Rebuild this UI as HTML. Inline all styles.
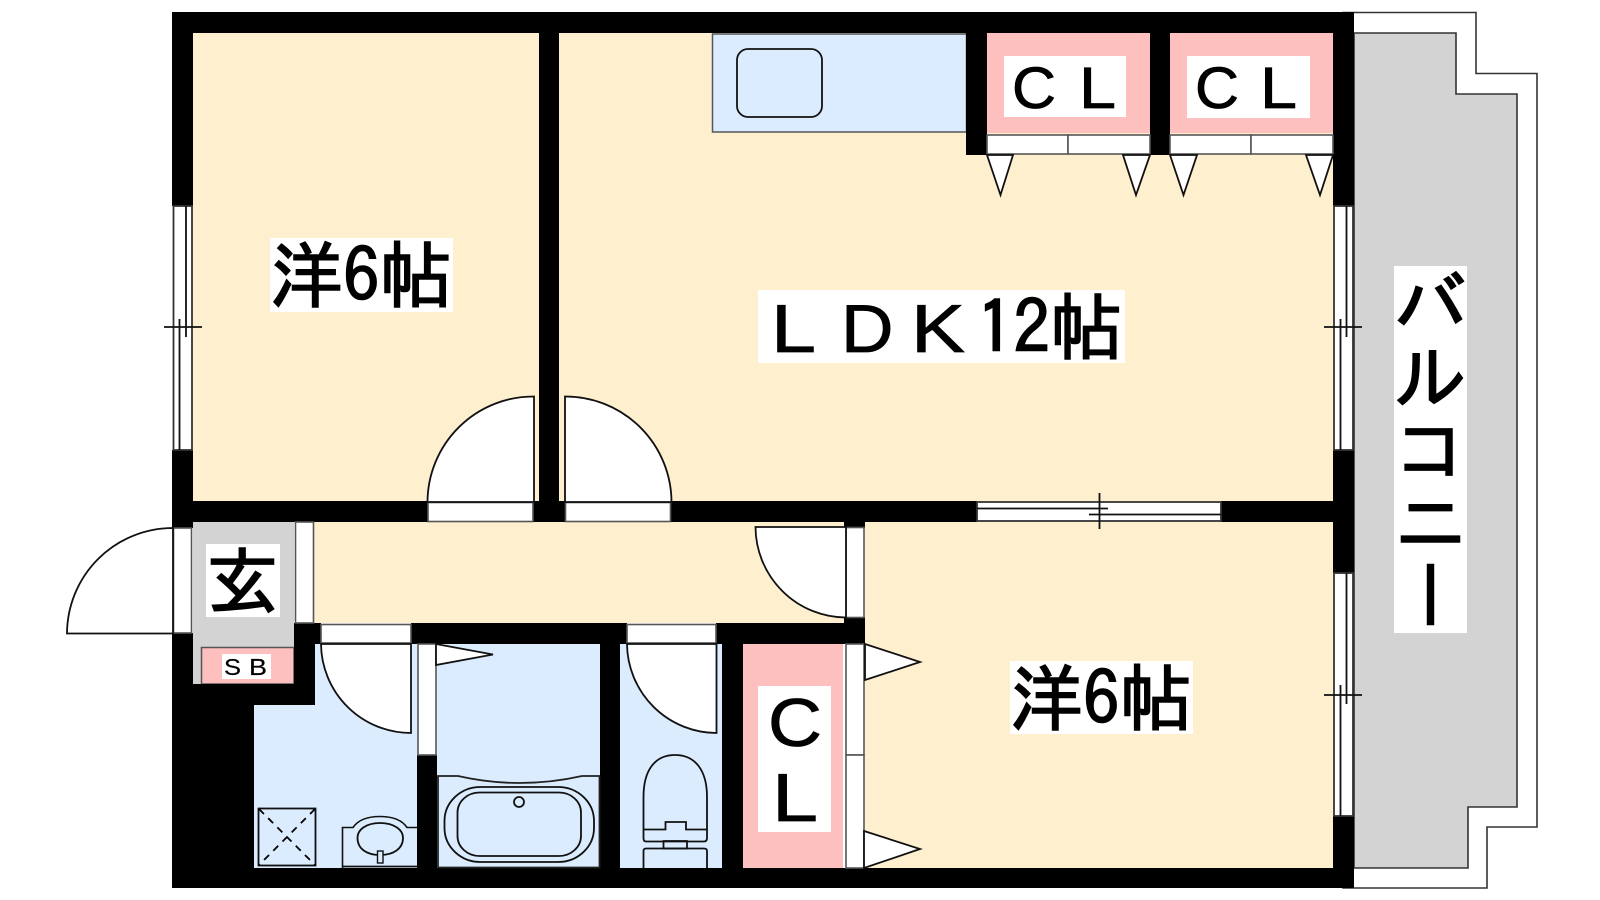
<!DOCTYPE html>
<html lang="ja"><head><meta charset="utf-8"><title>間取り図</title>
<style>
html,body{margin:0;padding:0;background:#fff;width:1600px;height:900px;overflow:hidden}
svg{display:block}
text{font-family:"IPAGothic","Noto Sans CJK JP",sans-serif;fill:#000;stroke:#000;stroke-width:1.6px}
text.a{font-family:"Liberation Sans",sans-serif;stroke-width:.8px}
.k{fill:#000;stroke:none}
.l{fill:none;stroke:#111;stroke-width:1.8}
.d{fill:#fff;stroke:#111;stroke-width:1.8}
.j{fill:#fff;stroke:#555;stroke-width:1.6}
</style></head><body>
<svg width="1600" height="900" viewBox="0 0 1600 900" xmlns="http://www.w3.org/2000/svg">
<!-- balcony -->
<path class="j" d="M1343 12.500H1476V73.500H1537V827H1487V888H1343Z" style="stroke:#333"/>
<path d="M1354 33H1456V94H1517V807H1468V868H1354Z" fill="#d3d3d3" stroke="#333" stroke-width="1.6"/>
<!-- floors -->
<rect x="193" y="33" width="346" height="468" fill="#fef0cf"/>
<rect x="559" y="33" width="774" height="468" fill="#fef0cf"/>
<rect x="865" y="522" width="468" height="346" fill="#fef0cf"/>
<rect x="314" y="522" width="530" height="101" fill="#fef0cf"/>
<rect x="193" y="522" width="101" height="162" fill="#d3d3d3"/>
<rect x="201.500" y="647.500" width="92.500" height="36.500" fill="#febfbf" stroke="#555" stroke-width="1.5"/>
<path d="M315 644H417V868H254V705H315Z" fill="#dbecff"/>
<rect x="437" y="644" width="163" height="224" fill="#dbecff"/>
<rect x="620" y="644" width="102" height="224" fill="#dbecff"/>
<rect x="743" y="644" width="100" height="224" fill="#febfbf"/>
<rect x="987" y="33" width="163" height="100" fill="#febfbf"/>
<rect x="1170" y="33" width="163" height="100" fill="#febfbf"/>
<rect x="712.500" y="34" width="254" height="98" fill="#dbecff" stroke="#555" stroke-width="1.5"/>
<rect x="737" y="49" width="85" height="68" rx="11" class="l"/>
<!-- walls -->
<g class="k">
<rect x="172" y="12" width="1182" height="21"/>
<rect x="172" y="868" width="1182" height="20"/>
<rect x="172" y="12" width="21" height="194"/>
<rect x="172" y="450" width="21" height="78"/>
<rect x="172" y="633" width="21" height="255"/>
<rect x="193" y="684" width="122" height="21"/>
<rect x="193" y="684" width="61" height="204"/>
<rect x="294" y="623" width="21" height="82"/>
<rect x="294" y="623" width="27" height="21"/>
<rect x="1333" y="12" width="21" height="194"/>
<rect x="1333" y="450" width="21" height="123"/>
<rect x="1333" y="816" width="21" height="72"/>
<rect x="172" y="501" width="256" height="21"/>
<rect x="533" y="501" width="32" height="21"/>
<rect x="671" y="501" width="306" height="21"/>
<rect x="1221" y="501" width="133" height="21"/>
<rect x="539" y="33" width="20" height="468"/>
<rect x="844" y="522" width="21" height="6"/>
<rect x="844" y="617" width="21" height="27"/>
<rect x="411" y="623" width="216" height="21"/>
<rect x="716" y="623" width="149" height="21"/>
<rect x="417" y="755" width="20" height="113"/>
<rect x="600" y="644" width="20" height="224"/>
<rect x="722" y="644" width="21" height="224"/>
<rect x="966" y="33" width="21" height="122"/>
<rect x="1150" y="33" width="20" height="122"/>
</g>
<!-- closet sliding doors top -->
<g class="j">
<rect x="987" y="135" width="81" height="19"/><rect x="1068" y="135" width="82" height="19"/>
<rect x="1170" y="135" width="81" height="19"/><rect x="1251" y="135" width="82" height="19"/>
</g>
<g class="d">
<path d="M987 155H1013L1000.500 195Z"/><path d="M1123 155H1150L1136 195Z"/>
<path d="M1170 155H1197L1183.500 195Z"/><path d="M1306 155H1333L1320 195Z"/>
</g>
<!-- windows -->
<g class="d" style="stroke:#333">
<rect x="173.500" y="206" width="18.500" height="244"/>
<rect x="1334" y="206" width="19" height="244"/>
<rect x="1334" y="573" width="19" height="243"/>
<rect x="977" y="502" width="244" height="19"/>
</g>
<g class="l">
<path d="M179.500 319V450M186 206V337M164 327H202"/>
<path d="M1340.500 319V450M1346.500 206V337M1324 327H1362"/>
<path d="M1340.500 685V816M1346.500 573V704M1324 695H1362"/>
<path d="M977 508.500H1108M1089 514.500H1221M1099.500 493V529"/>
</g>
<!-- doors -->
<rect class="j" x="428" y="502.500" width="105" height="19"/>
<rect class="j" x="565.500" y="502.500" width="105" height="19"/>
<path class="d" d="M534 502V396.500A106 106 0 0 0 427.500 502Z"/>
<path class="d" d="M565 502V396.500A106 106 0 0 1 671.500 502Z"/>
<rect class="j" x="846" y="527.500" width="18" height="90"/>
<path class="d" d="M846 527H755.500A91 91 0 0 0 846 617.500Z"/>
<rect class="j" x="295.500" y="522" width="18" height="101"/>
<rect class="j" x="173.500" y="528" width="18" height="105"/>
<path class="d" d="M173 528A106 106 0 0 0 67 633.500H173Z"/>
<rect class="j" x="321" y="624.500" width="90" height="18.500"/>
<path class="d" d="M411 644V733A90 90 0 0 1 321 644Z"/>
<rect class="j" x="627" y="624.500" width="89" height="18.500"/>
<path class="d" d="M716.500 644V733A90 90 0 0 1 627 644Z"/>
<rect class="j" x="418" y="644" width="18" height="111"/>
<path class="d" d="M436 644L493 654.500L436 665Z"/>
<rect class="j" x="846" y="644" width="18" height="111"/>
<rect class="j" x="846" y="755" width="18" height="113"/>
<path class="d" d="M865 644L920 662L865 680Z"/>
<path class="d" d="M864 831L920 849L864 868Z"/>
<!-- bath -->
<path class="l" d="M438 868V776H458C480 781 498 783 519 783C540 783 560 781 582 776H599.500V868M438 867.500H600" style="stroke:#222"/>
<rect class="l" x="444.500" y="787" width="149.500" height="75" rx="36" ry="34"/>
<rect class="l" x="457.500" y="792.500" width="123.500" height="63.500" rx="22" ry="20"/>
<circle class="l" cx="519" cy="802" r="5"/>
<!-- toilet -->
<path class="l" d="M643.500 868V851Q643.500 848.500 646 848.500H704Q707 848.500 707 851V868"/>
<rect class="l" x="663.500" y="841" width="23.500" height="7.500"/>
<path class="l" d="M643.500 797C643.500 770 655 755 675 755C695 755 707 770 707 797V838Q707 841.500 704 841.500H646Q643.500 841.500 643.500 838Z"/>
<path class="l" d="M643.500 829.500H665.500V822H686V829.500H707"/>
<!-- wash: pan + basin -->
<rect class="l" x="258.500" y="808.500" width="57" height="57"/>
<path d="M259 809L315 865M315 809L259 865" fill="none" stroke="#000" stroke-width="1.8" stroke-dasharray="7 6"/>
<path d="M342.500 868V827.500H353C358 820 368 816.500 380 816.500C392 816.500 402 820 407 827.500H417" fill="#dbecff" stroke="#111" stroke-width="1.6"/>
<path class="l" d="M342.500 866.500H417"/>
<path class="l" d="M357.500 838C357.500 829 367 823 380 823C393 823 403 829 403 838C403 849 393 855 380 855C367 855 357.500 849 357.500 838Z"/>
<rect x="377.500" y="851" width="5.500" height="12" fill="#dbecff" stroke="#111" stroke-width="1.4"/>
<!-- labels -->
<rect x="270" y="238" width="183" height="74" fill="#fff"/>
<text x="270" y="302" font-size="73">洋6帖</text>
<rect x="1010" y="661" width="183" height="73" fill="#fff"/>
<text x="1010" y="725" font-size="73">洋6帖</text>
<rect x="758" y="290" width="367" height="73" fill="#fff"/>
<text class="a" x="771" y="352" font-size="68" textLength="45" lengthAdjust="spacingAndGlyphs">L</text>
<text class="a" x="841" y="352" font-size="68" textLength="52.500" lengthAdjust="spacingAndGlyphs">D</text>
<text class="a" x="911" y="352" font-size="68" textLength="54" lengthAdjust="spacingAndGlyphs">K</text>
<text x="977" y="354" font-size="73">12帖</text>
<rect x="1004" y="56" width="122" height="61" fill="#fff"/>
<text class="a" x="1012" y="108" font-size="58" textLength="44" lengthAdjust="spacingAndGlyphs">C</text>
<text class="a" x="1079" y="108" font-size="58" textLength="37" lengthAdjust="spacingAndGlyphs">L</text>
<rect x="1187" y="56" width="123" height="62" fill="#fff"/>
<text class="a" x="1195" y="108" font-size="58" textLength="44" lengthAdjust="spacingAndGlyphs">C</text>
<text class="a" x="1260" y="108" font-size="58" textLength="37" lengthAdjust="spacingAndGlyphs">L</text>
<rect x="758" y="686" width="73" height="146" fill="#fff"/>
<text class="a" x="768" y="746" font-size="68" textLength="54" lengthAdjust="spacingAndGlyphs">C</text>
<text class="a" x="772" y="821" font-size="68" textLength="46" lengthAdjust="spacingAndGlyphs">L</text>
<rect x="206" y="544" width="74" height="73" fill="#fff"/>
<text x="206" y="608" font-size="73">玄</text>
<rect x="222" y="654" width="49" height="25" fill="#fff"/>
<text class="a" x="224" y="675" font-size="23" textLength="17" lengthAdjust="spacingAndGlyphs" style="stroke-width:.2px">S</text>
<text class="a" x="249" y="675" font-size="23" textLength="18" lengthAdjust="spacingAndGlyphs" style="stroke-width:.2px">B</text>
<rect x="1394" y="266" width="73" height="367" fill="#fff"/>
<text x="1430.500" y="266" font-size="73" style="writing-mode:vertical-rl">バルコニー</text>
</svg>
</body></html>
